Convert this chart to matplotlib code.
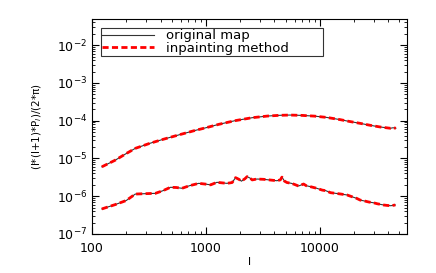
import numpy as np
import matplotlib
matplotlib.use("Agg")
from matplotlib import pyplot as plt

# upper curve
l_up = [122, 160, 200, 240, 320, 420, 578, 800, 1000, 1297, 1800, 2548, 3500,
        4500, 5500, 7000, 9000, 11500, 15000, 18000, 22600, 28000, 34000, 41600, 44000, 46500]
p_up = [6.0e-6, 9.0e-6, 1.35e-5, 1.85e-5, 2.5e-5, 3.2e-5, 4.2e-5, 5.5e-5, 6.5e-5, 8.0e-5,
        1.0e-4, 1.2e-4, 1.33e-4, 1.39e-4, 1.41e-4, 1.38e-4, 1.32e-4, 1.22e-4, 1.07e-4,
        9.6e-5, 8.5e-5, 7.5e-5, 6.8e-5, 6.3e-5, 6.5e-5, 6.3e-5]

# lower curve
l_lo = [122, 160, 200, 240, 300, 360, 420, 488, 550, 616, 720, 865, 980, 1100, 1250,
        1400, 1530, 1700, 1820, 1950, 2050, 2200, 2300, 2450, 2550, 2800, 3200, 3600,
        4200, 4500, 4650, 4900, 5150, 5600, 6000, 6500, 6900, 7200, 7600, 8200, 9400,
        10500, 11300, 12400, 13500, 15000, 17300, 19500, 21000, 22600, 25000, 27000,
        29600, 32000, 36300, 39000, 42000, 46000]
p_lo = [4.6e-7, 6.0e-7, 7.7e-7, 1.14e-6, 1.17e-6, 1.19e-6, 1.4e-6, 1.72e-6, 1.7e-6,
        1.62e-6, 1.9e-6, 2.19e-6, 2.1e-6, 2.0e-6, 2.33e-6, 2.25e-6, 2.19e-6, 2.3e-6,
        3.1e-6, 2.8e-6, 2.5e-6, 2.9e-6, 3.3e-6, 3.0e-6, 2.7e-6, 2.85e-6, 2.8e-6, 2.7e-6,
        2.57e-6, 2.7e-6, 3.2e-6, 2.5e-6, 2.3e-6, 2.2e-6, 2.05e-6, 1.86e-6, 2.0e-6,
        2.1e-6, 1.9e-6, 1.8e-6, 1.62e-6, 1.45e-6, 1.4e-6, 1.24e-6, 1.2e-6, 1.15e-6,
        1.08e-6, 0.95e-6, 0.88e-6, 7.9e-7, 7.4e-7, 7.0e-7, 6.7e-7, 6.3e-7, 5.85e-7,
        5.7e-7, 5.6e-7, 5.85e-7]

fig = plt.figure(figsize=(4.36, 2.73), dpi=100)
ax = fig.add_axes([0.211, 0.143, 0.722, 0.787])

for l, p in [(l_up, p_up), (l_lo, p_lo)]:
    ax.plot(l, p, color="#333333", lw=0.8, label="original map")
    ax.plot(l, p, color="red", lw=2.0, ls=(0, (2.2, 1.2)), label="inpainting method")

ax.set_xscale("log")
ax.set_yscale("log")
ax.set_xlim(100, 58000)
ax.set_ylim(1e-7, 0.049)
ax.set_yticks([1e-7, 1e-6, 1e-5, 1e-4, 1e-3, 1e-2])
ax.set_xticks([100, 1000, 10000])
ax.set_xticklabels(["100", "1000", "10000"])
ax.tick_params(which="both", direction="in", top=True, right=True, labelsize=9)
ax.tick_params(axis="x", pad=6)
ax.tick_params(which="major", length=5, width=0.8)
ax.tick_params(which="minor", length=2.5, width=0.6)

ax.set_xlabel("l", fontsize=8, labelpad=1)
ax.set_ylabel("(l*(l+1)*P$_l$)/(2*π)", fontsize=7.5, labelpad=9)

h, lab = ax.get_legend_handles_labels()
leg = ax.legend(h[:2], lab[:2], loc="upper left", fontsize=9.5, frameon=True,
                fancybox=False, edgecolor="black", handlelength=3.9,
                handletextpad=0.9, borderpad=0.1, labelspacing=-0.05,
                borderaxespad=0, mode="expand",
                bbox_to_anchor=(0.029, 0.847, 0.704, 0.111))
leg.get_frame().set_linewidth(0.8)

for s in ax.spines.values():
    s.set_linewidth(0.8)

plt.savefig("out.png", dpi=100)
